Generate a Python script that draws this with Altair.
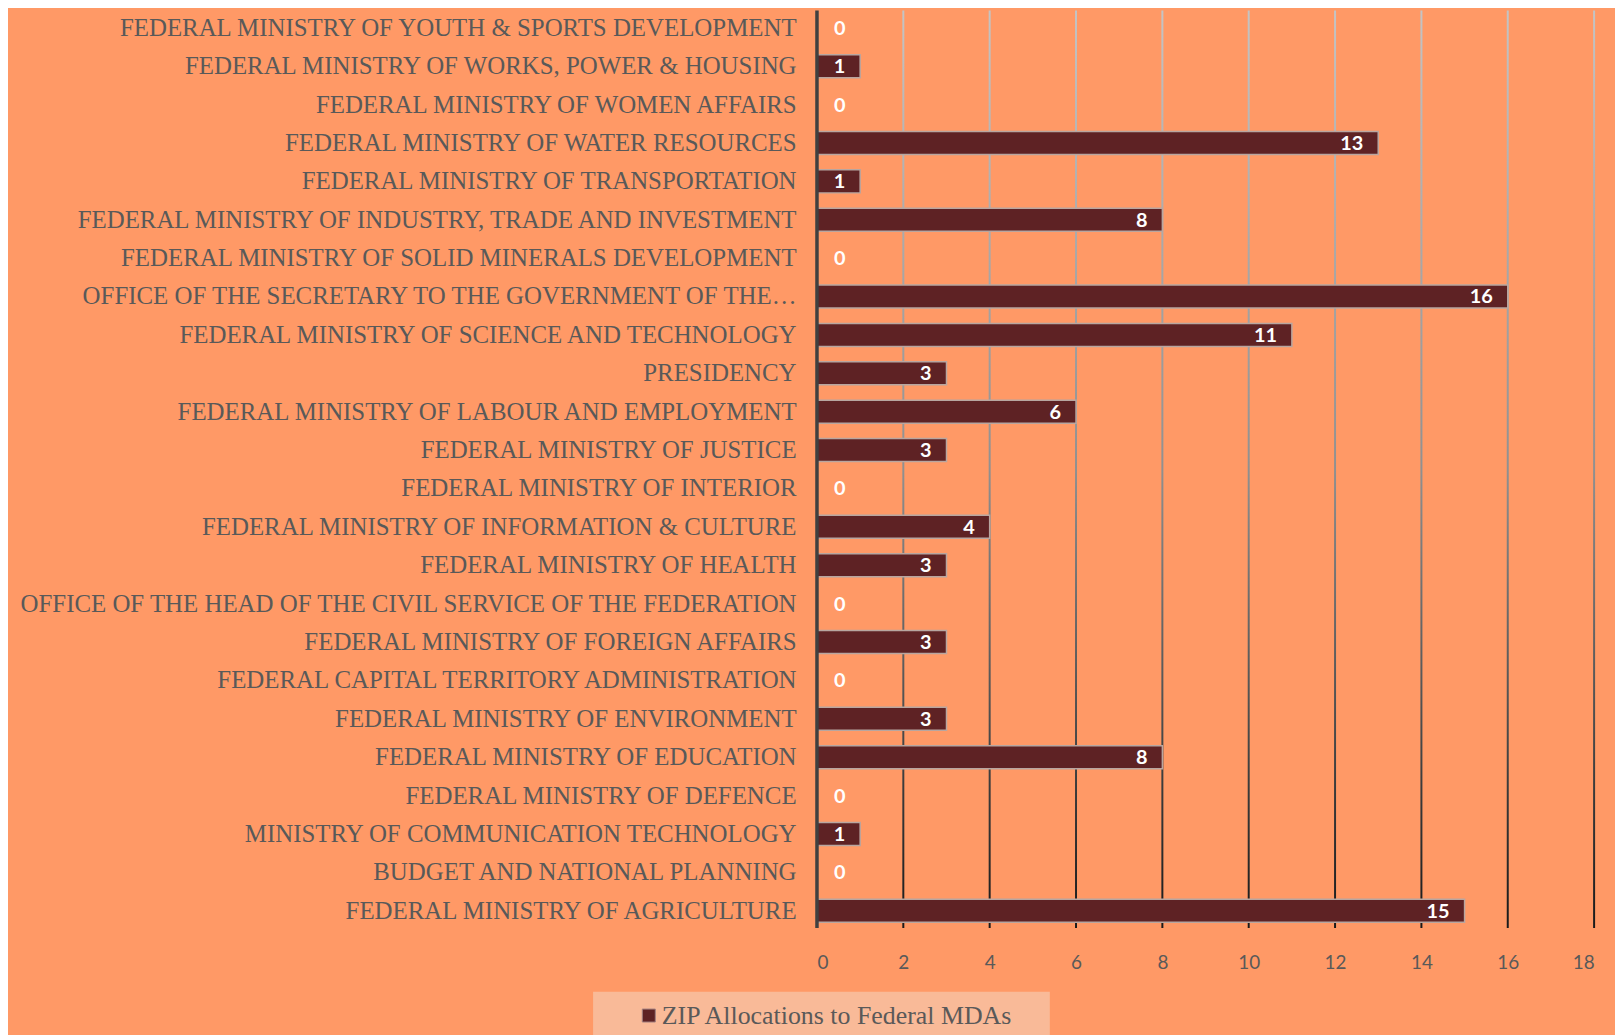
import altair as alt
import pandas as pd

categories = [
    "FEDERAL MINISTRY OF YOUTH & SPORTS DEVELOPMENT",
    "FEDERAL MINISTRY OF WORKS, POWER & HOUSING",
    "FEDERAL MINISTRY OF WOMEN AFFAIRS",
    "FEDERAL MINISTRY OF WATER RESOURCES",
    "FEDERAL MINISTRY OF TRANSPORTATION",
    "FEDERAL MINISTRY OF INDUSTRY, TRADE AND INVESTMENT",
    "FEDERAL MINISTRY OF SOLID MINERALS DEVELOPMENT",
    "OFFICE OF THE SECRETARY TO THE GOVERNMENT OF THE…",
    "FEDERAL MINISTRY OF SCIENCE AND TECHNOLOGY",
    "PRESIDENCY",
    "FEDERAL MINISTRY OF LABOUR AND EMPLOYMENT",
    "FEDERAL MINISTRY OF JUSTICE",
    "FEDERAL MINISTRY OF INTERIOR",
    "FEDERAL MINISTRY OF INFORMATION & CULTURE",
    "FEDERAL MINISTRY OF HEALTH",
    "OFFICE OF THE HEAD OF THE CIVIL SERVICE OF THE FEDERATION",
    "FEDERAL MINISTRY OF FOREIGN AFFAIRS",
    "FEDERAL CAPITAL TERRITORY ADMINISTRATION",
    "FEDERAL MINISTRY OF ENVIRONMENT",
    "FEDERAL MINISTRY OF EDUCATION",
    "FEDERAL MINISTRY OF DEFENCE",
    "MINISTRY OF COMMUNICATION TECHNOLOGY",
    "BUDGET AND NATIONAL PLANNING",
    "FEDERAL MINISTRY OF AGRICULTURE",
]
values = [0, 1, 0, 13, 1, 8, 0, 16, 11, 3, 6, 3, 0, 4, 3, 0, 3, 0, 3, 8, 0, 1, 0, 15]
series_name = "ZIP Allocations to Federal MDAs"
x_ticks = [0, 2, 4, 6, 8, 10, 12, 14, 16, 18]
grid_values = [2, 4, 6, 8, 10, 12, 14, 16, 18]
axis_line = [0]

BG = "#FF9966"
BAR = "#5E2224"
TEXT = "#595959"

df = pd.DataFrame({"mda": categories, "value": values, "series": series_name})
grid_df = pd.DataFrame({"g": grid_values})
axis_df = pd.DataFrame({"a": axis_line})

xscale = alt.Scale(domain=[0, 18], nice=False, zero=True)
yscale = alt.Scale(paddingInner=0.4, paddingOuter=0.15)

grad = alt.Gradient(
    gradient="linear",
    stops=[
        alt.GradientStop(color="#c4c4c4", offset=0),
        alt.GradientStop(color="#909090", offset=0.5),
        alt.GradientStop(color="#3a3a3a", offset=0.85),
        alt.GradientStop(color="#1a1a1a", offset=1),
    ],
    x1=0, x2=0, y1=0, y2=1,
)

grid = alt.Chart(grid_df).mark_rect(color=grad, xOffset=-1, x2Offset=1).encode(
    x=alt.X("g:Q", scale=xscale),
    x2="g:Q",
)

bars = alt.Chart(df).mark_bar(stroke="#b8a6a0", strokeWidth=1.5).encode(
    y=alt.Y(
        "mda:N",
        sort=categories,
        scale=yscale,
        title=None,
        axis=alt.Axis(
            labelFont="Liberation Serif",
            labelFontSize=25,
            labelColor=TEXT,
            labelPadding=21,
            labelLimit=1000,
            ticks=False,
            domain=False,
        ),
    ),
    x=alt.X(
        "value:Q",
        scale=xscale,
        title=None,
        axis=alt.Axis(
            values=x_ticks,
            grid=False,
            domain=False,
            ticks=False,
            labelFont="Lato",
            labelFontSize=19,
            labelColor=TEXT,
            labelPadding=26,
        ),
    ),
    color=alt.Color(
        "series:N",
        scale=alt.Scale(range=[BAR]),
        legend=alt.Legend(
            title="\u00a0",
            titleOrient="right",
            titlePadding=25,
            titleFontSize=26,
            orient="none",
            legendX=-225,
            legendY=986,
            fillColor="#F9BA98",
            padding=11,
            symbolType="square",
            symbolSize=170,
            symbolOffset=32,
            symbolStrokeColor="#a08080",
            symbolStrokeWidth=1,
            labelFont="Liberation Serif",
            labelFontSize=26,
            labelColor=TEXT,
            labelOffset=0,
            labelLimit=1000,
        ),
    ),
)

axis_rule = alt.Chart(axis_df).mark_rule(color="#404040", strokeWidth=3.5).encode(
    x=alt.X("a:Q", scale=xscale),
)

labels_nz = alt.Chart(df).transform_filter("datum.value > 0").mark_text(
    align="right", baseline="middle", dx=-15, dy=1, font="Lato", fontWeight="bold",
    fontSize=20, color="white",
).encode(
    y=alt.Y("mda:N", sort=categories),
    x=alt.X("value:Q"),
    text="value:Q",
)

labels_zero = alt.Chart(df).transform_filter("datum.value == 0").mark_text(
    align="left", baseline="middle", dx=17, dy=1, font="Lato", fontWeight="bold",
    fontSize=20, color="white",
).encode(
    y=alt.Y("mda:N", sort=categories),
    x=alt.X("value:Q"),
    text="value:Q",
)

chart = alt.layer(grid, bars, axis_rule, labels_nz, labels_zero).properties(
    width=781,
    height=922,
    background=BG,
    autosize=alt.AutoSizeParams(type="none"),
    padding={"left": 813, "top": 0, "right": 21, "bottom": 105},
).configure_view(stroke=None)

chart.save("out.html", embed_options={"renderer": "svg", "actions": False})
